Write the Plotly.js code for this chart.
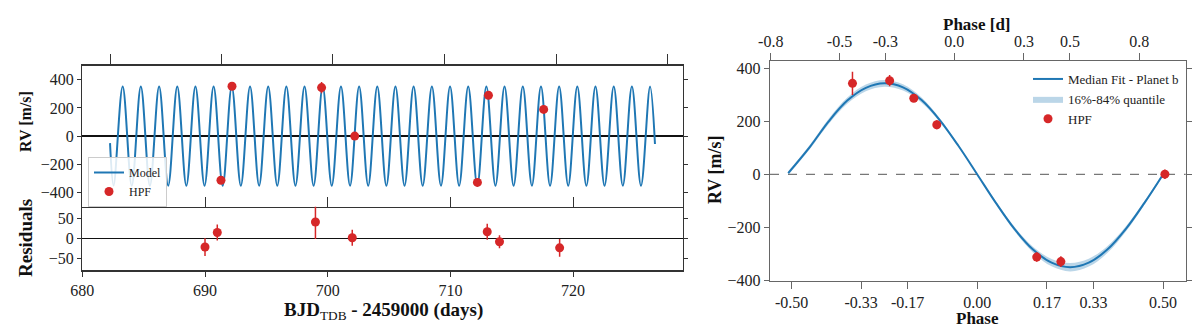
<!DOCTYPE html>
<html>
<head>
<meta charset="utf-8">
<script src="https://cdn.plot.ly/plotly-3.0.1.min.js"></script>
<style>body{margin:0;background:#fff}#rvplot{width:1196px;height:332px}</style>
</head>
<body>
<div id="rvplot"></div>
<script>
// HPF radial velocities vs time (upper left panel)
const hpfTime = [691.3, 692.2, 699.5, 702.2, 712.2, 713.1, 717.6];
const hpfRV = [-315, 355, 345, 0, -330, 290, 190];
const hpfErr = [18, 18, 40, 18, 18, 18, 18];

// residuals (lower left panel)
const resTime = [690.0, 691.0, 699.0, 702.0, 713.0, 714.0, 718.9];
const resRV = [-21, 15, 41, 2, 17, -8, -23];
const resErr = [22, 20, 42, 20, 20, 16, 22];

// model curve: start point, then troughs / peaks, end point
const modelTime = [682.26,
  682.55, 683.29, 684.03, 684.77, 685.51, 686.26, 687.00, 687.74, 688.48, 689.22,
  689.96, 690.70, 691.44, 692.18, 692.92, 693.67, 694.41, 695.15, 695.89, 696.63,
  697.37, 698.11, 698.85, 699.59, 700.33, 701.08, 701.82, 702.56, 703.30, 704.04,
  704.78, 705.52, 706.26, 707.00, 707.74, 708.49, 709.23, 709.97, 710.71, 711.45,
  712.19, 712.93, 713.67, 714.41, 715.15, 715.90, 716.64, 717.38, 718.12, 718.86,
  719.60, 720.34, 721.08, 721.82, 722.56, 723.31, 724.05, 724.79, 725.53, 726.27,
  726.67];
const modelRV = [-50,
  -353, 353, -353, 353, -353, 353, -353, 353, -353, 353,
  -353, 353, -353, 353, -353, 353, -353, 353, -353, 353,
  -353, 353, -353, 353, -353, 353, -353, 353, -353, 353,
  -353, 353, -353, 353, -353, 353, -353, 353, -353, 353,
  -353, 353, -353, 353, -353, 353, -353, 353, -353, 353,
  -353, 353, -353, 353, -353, 353, -353, 353, -353, 353,
  -57];

// unlabelled ticks on top of the upper left panel
const topTickDays = [682.26, 691.32, 700.40, 709.50, 718.61, 727.71];

// phase-folded panel (right)
const phaseGrid = [-0.509, -0.45, -0.40, -0.35, -0.30, -0.25, -0.20, -0.15, -0.10, -0.05, 0.00,
  0.05, 0.10, 0.15, 0.20, 0.25, 0.30, 0.35, 0.40, 0.45, 0.50];
const fitRV = [5, 105, 200, 278, 326, 343, 328, 280, 203, 106, 0,
  -107, -205, -283, -332, -349, -332, -283, -205, -107, 0];
const bandHalf = [7, 8, 10, 12, 13, 13, 12, 10, 7, 4, 3, 5, 8, 11, 14, 16, 15, 13, 10, 7, 5];

const phaseHPF = [-0.336, -0.236, -0.171, -0.109, 0.160, 0.225, 0.505];
const phaseRV = [343, 353, 287, 187, -311, -328, 1];
const phaseErr = [44, 21, 12, 17, 18, 20, 18];

const phaseTickVals = [-0.5, -0.3125, -0.1875, 0, 0.1875, 0.3125, 0.5];
const phaseTickText = ['-0.50', '-0.33', '-0.17', '0.00', '0.17', '0.33', '0.50'];
const dayTickVals = [-0.556, -0.371, -0.2476, -0.0622, 0.1257, 0.2495, 0.436];
const dayTickText = ['-0.8', '-0.5', '-0.3', '0.0', '0.3', '0.5', '0.8'];

const SERIF = 'Liberation Serif';
const RED = '#d62728';
const BLUE = '#1f77b4';
const W = 1196, H = 332;
const px = v => v / W;
const py = v => 1 - v / H;

const bandLo = fitRV.map((v, i) => v - bandHalf[i]);
const bandHi = fitRV.map((v, i) => v + bandHalf[i]);

var data = [
  {
    x: modelTime, y: modelRV, xaxis: 'x', yaxis: 'y',
    type: 'scatter', mode: 'lines', name: 'Model',
    line: {color: BLUE, width: 2, shape: 'spline', smoothing: 1}
  },
  {
    x: hpfTime, y: hpfRV, xaxis: 'x', yaxis: 'y',
    type: 'scatter', mode: 'markers', name: 'HPF',
    marker: {color: RED, size: 9},
    error_y: {type: 'data', array: hpfErr, color: RED, thickness: 1.5, width: 0}
  },
  // empty traces so the top twin axes get drawn
  {x: [], y: [], xaxis: 'x3', yaxis: 'y', type: 'scatter', mode: 'markers', showlegend: false},
  {
    x: resTime, y: resRV, xaxis: 'x2', yaxis: 'y2',
    type: 'scatter', mode: 'markers', showlegend: false,
    marker: {color: RED, size: 9},
    error_y: {type: 'data', array: resErr, color: RED, thickness: 1.5, width: 0}
  },
  {
    x: phaseGrid, y: bandLo, xaxis: 'x4', yaxis: 'y4',
    type: 'scatter', mode: 'lines', showlegend: false, hoverinfo: 'skip',
    line: {width: 0, shape: 'spline'}
  },
  {
    x: phaseGrid, y: bandHi, xaxis: 'x4', yaxis: 'y4',
    type: 'scatter', mode: 'lines', name: '16%-84% quantile',
    legend: 'legend2', legendrank: 2,
    fill: 'tonexty', fillcolor: 'rgba(31,119,180,0.3)',
    line: {width: 0, shape: 'spline'}
  },
  {
    x: phaseGrid, y: fitRV, xaxis: 'x4', yaxis: 'y4',
    type: 'scatter', mode: 'lines', name: 'Median Fit - Planet b',
    legend: 'legend2', legendrank: 1,
    line: {color: BLUE, width: 2, shape: 'spline'}
  },
  {
    x: phaseHPF, y: phaseRV, xaxis: 'x4', yaxis: 'y4',
    type: 'scatter', mode: 'markers', name: 'HPF',
    legend: 'legend2', legendrank: 3,
    marker: {color: RED, size: 9},
    error_y: {type: 'data', array: phaseErr, color: RED, thickness: 1.5, width: 0}
  },
  {x: [], y: [], xaxis: 'x5', yaxis: 'y4', type: 'scatter', mode: 'markers', showlegend: false}
];

const tickFont = {family: SERIF, size: 16, color: '#222'};
const frameL = {showline: true, linecolor: '#333', linewidth: 1.3, showgrid: false, zeroline: false,
  tickcolor: '#333', tickfont: tickFont};
const frameR = {showline: true, linecolor: '#666', linewidth: 1.3, showgrid: false, zeroline: false,
  tickcolor: '#666', tickfont: tickFont};
const xRange = [680, 728.93];

function label(text, x, y, size, angle) {
  return {text: text, x: px(x), y: py(y), xref: 'paper', yref: 'paper',
    xanchor: 'center', yanchor: 'middle', textangle: angle || 0, showarrow: false,
    font: {family: SERIF, size: size, color: '#111'}};
}

var layout = {
  width: W, height: H, autosize: false,
  margin: {l: 0, r: 0, t: 0, b: 0},
  paper_bgcolor: 'white', plot_bgcolor: 'white',
  font: {family: SERIF, color: '#222'},
  xaxis: Object.assign({}, frameL, {
    domain: [px(82.3), px(682.7)], anchor: 'y', range: xRange,
    tick0: 680, dtick: 10, ticks: 'inside', ticklen: 10, showticklabels: false
  }),
  xaxis3: Object.assign({}, frameL, {
    domain: [px(82.3), px(682.7)], anchor: 'y', overlaying: 'x', side: 'top', range: xRange,
    tickmode: 'array', tickvals: topTickDays, ticks: 'outside', ticklen: 10, showticklabels: false
  }),
  yaxis: Object.assign({}, frameL, {
    domain: [py(206.7), py(65.7)], anchor: 'x', range: [-503, 501],
    tickvals: [-400, -200, 0, 200, 400], ticks: 'outside', ticklen: 4, mirror: 'ticks',
    zeroline: true, zerolinecolor: '#111', zerolinewidth: 1.5
  }),
  xaxis2: Object.assign({}, frameL, {
    domain: [px(82.3), px(682.7)], anchor: 'y2', range: xRange,
    tick0: 680, dtick: 10, ticks: 'outside', ticklen: 5
  }),
  yaxis2: Object.assign({}, frameL, {
    domain: [py(270.4), py(206.7)], anchor: 'x2', range: [-79, 79],
    tickvals: [-50, 0, 50], ticks: 'outside', ticklen: 4, mirror: 'ticks',
    zeroline: true, zerolinecolor: '#111', zerolinewidth: 1.5
  }),
  xaxis4: Object.assign({}, frameR, {
    domain: [px(770), px(1185.7)], anchor: 'y4', range: [-0.558, 0.561],
    tickmode: 'array', tickvals: phaseTickVals, ticktext: phaseTickText,
    ticks: 'outside', ticklen: 7
  }),
  xaxis5: Object.assign({}, frameR, {
    domain: [px(770), px(1185.7)], anchor: 'y4', overlaying: 'x4', side: 'top', range: [-0.558, 0.561],
    tickmode: 'array', tickvals: dayTickVals, ticktext: dayTickText,
    ticks: 'outside', ticklen: 7
  }),
  yaxis4: Object.assign({}, frameR, {
    domain: [py(280.7), py(61.3)], anchor: 'x4', range: [-400, 426],
    tickvals: [-400, -200, 0, 200, 400], ticks: 'outside', ticklen: 5, mirror: 'ticks'
  }),
  shapes: [
    {type: 'line', xref: 'x4 domain', x0: 0, x1: 1, yref: 'y4', y0: 0, y1: 0,
      line: {color: '#777', width: 1.2, dash: 'dash'}, layer: 'below'}
  ],
  legend: {
    x: px(88), y: py(157), xanchor: 'left', yanchor: 'top',
    bgcolor: 'rgba(255,255,255,0.85)', bordercolor: '#ccc', borderwidth: 1,
    font: {family: SERIF, size: 12, color: '#222'}, tracegroupgap: 0
  },
  legend2: {
    x: px(1028), y: py(64), xanchor: 'left', yanchor: 'top',
    bgcolor: 'rgba(0,0,0,0)', borderwidth: 0,
    font: {family: SERIF, size: 13, color: '#222'}, traceorder: 'normal'
  },
  annotations: [
    label('<b>RV [m/s]</b>', 25, 122, 16, -90),
    label('<b>Residuals</b>', 25, 238, 19, -90),
    label('<b>BJD</b><sub>TDB</sub><b> - 2459000 (days)</b>', 383, 311, 19),
    label('<b>Phase [d]</b>', 977, 24, 17),
    label('<b>Phase</b>', 977, 318, 17),
    label('<b>RV [m/s]</b>', 715, 170, 18, -90)
  ]
};

Plotly.newPlot('rvplot', data, layout, {staticPlot: true});
</script>
</body>
</html>
